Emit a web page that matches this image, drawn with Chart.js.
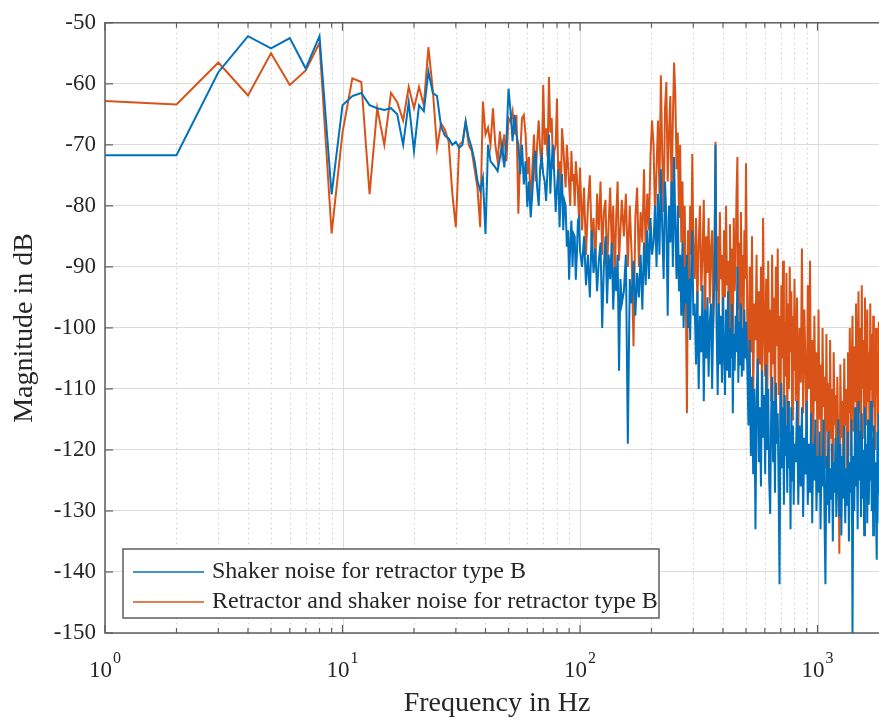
<!DOCTYPE html>
<html>
<head>
<meta charset="utf-8">
<script src="https://cdn.jsdelivr.net/npm/chart.js@4.4.1/dist/chart.umd.min.js"></script>
<style>
  html, body { margin: 0; padding: 0; overflow: hidden; background: #fff; }
  #wrap { width: 889px; height: 720px; }
</style>
</head>
<body>
<div id="wrap"><canvas id="spectrum" width="889" height="720"></canvas></div>
<script>
// frequency bins (Hz), shared by both curves
var freqHz = [
  1, 2, 3, 4, 5, 6, 7, 8, 9, 10, 11, 12, 13, 14, 15, 16, 17, 18, 19, 20,
  21, 22, 23, 24, 25, 26, 27, 28, 29, 30, 31, 32, 33, 34, 35, 36, 37, 38, 39, 40,
  41, 42, 43, 44, 45, 46, 47, 48, 49, 50, 51, 52, 53, 54, 55, 56, 57, 58, 59, 60,
  61, 62, 63, 64, 65, 66, 67, 68, 69, 70, 71, 72, 73, 74, 75, 76, 77, 78, 79, 80,
  81, 82, 83, 84, 85, 86, 87, 88, 89, 90, 91, 92, 93, 94, 95, 96, 97, 98, 99, 100,
  102, 104, 106, 108, 110, 112, 114, 116, 118, 120, 122, 124, 126, 128, 130, 132, 134, 136, 138, 140,
  142, 144, 146, 148, 150,
  153, 156, 159, 162, 165, 168, 171, 174, 177, 180, 183, 186, 189, 192, 195, 198, 201,
  204, 207, 210, 213, 216, 219, 222, 225, 228, 231, 234, 237, 240, 243, 246, 249, 252, 255, 258, 261,
  264, 267, 270, 273, 276, 279, 282, 285, 288, 291, 294, 297, 300,
  304, 308, 312, 316, 320, 324, 328, 332, 336, 340, 344, 348, 352, 356, 360, 364, 368, 372, 376, 380,
  384, 388, 392, 396, 400, 404, 408, 412, 416, 420, 424, 428, 432, 436, 440, 444, 448, 452, 456, 460,
  464, 468, 472, 476, 480, 484, 488, 492, 496, 500,
  506, 512, 518, 524, 530, 536, 542, 548, 554, 560, 566, 572, 578, 584, 590, 596, 602, 608, 614, 620,
  626, 632, 638, 644, 650, 656, 662, 668, 674, 680, 686, 692, 698, 704, 710, 716, 722, 728, 734, 740,
  746, 752, 758, 764, 770, 776, 782, 788, 794, 800,
  810, 820, 830, 840, 850, 860, 870, 880, 890, 900, 910, 920, 930, 940, 950, 960, 970, 980, 990, 1000,
  1010, 1020, 1030, 1040, 1050, 1060, 1070, 1080, 1090, 1100, 1110, 1120, 1130, 1140, 1150, 1160, 1170, 1180, 1190, 1200,
  1212, 1224, 1236, 1248, 1260, 1272, 1284, 1296, 1308, 1320, 1332, 1344, 1356, 1368, 1380, 1392, 1404, 1416,
  1428, 1440, 1452, 1464, 1476, 1488, 1500, 1512, 1524, 1536, 1548, 1560, 1572, 1584, 1596, 1608, 1620, 1632,
  1644, 1656, 1668, 1680, 1692, 1704, 1716, 1728, 1740, 1752, 1764, 1776, 1788, 1800, 1812, 1824, 1836, 1848
];

// Shaker noise (blue), dB
var shakerDb = [
  -71.7, -71.7, -58.1, -52.2, -54.2, -52.5, -57.5, -52.2, -78.1, -63.5,
  -62.0, -61.5, -63.5, -64.0, -64.3, -64.0, -65.0, -70.0, -63.0, -71.0,
  -63.5, -64.5, -58.0, -61.5, -62.0, -67.0, -68.5, -69.0, -70.0, -69.5,
  -70.5, -70.0, -66.2, -68.9, -70.5, -72.7, -75.9, -77.5, -75.4, -84.6,
  -70.0, -72.7, -73.2, -73.7, -74.3, -72.1, -70.0, -73.7, -69.4, -60.8,
  -64.5, -69.4, -65.1, -68.3, -70.0, -74.8, -70.0, -76.5, -72.7, -80.2,
  -76, -81.9, -78, -72.7, -71, -77, -80, -73.7, -72, -74.8,
  -76, -79.2, -74, -68.3, -78, -72.7, -70, -75.4, -81, -77,
  -74, -83.5, -78, -74.8, -84, -79.2, -80, -86.7, -84, -92.1,
  -86, -82.4, -90, -84.6, -85, -92.1, -88, -82.4, -82, -87.3,
  -90, -85, -93, -88, -95, -84, -91, -87, -94, -89, -86, -100, -90, -85, -96, -88, -92, -86, -97, -90,
  -94, -88, -107, -92, -96,
  -94, -88, -119, -92, -96, -89, -98, -91, -95, -88, -97, -86, -93, -84, -92, -82, -88,
  -86, -80, -90, -78, -88, -74, -84, -92, -76, -82, -98, -80, -86, -76, -90, -72, -84, -92, -80, -94,
  -88, -98, -86, -100, -90, -96, -88, -100, -92, -102, -90, -84, -98,
  -96, -106, -94, -110, -98, -104, -93, -112, -97, -105, -95, -108, -99, -96, -110, -98, -92, -70, -100, -111,
  -96, -106, -98, -109, -95, -104, -111, -97, -107, -94, -108, -100, -105, -96, -114, -101, -107, -98, -104, -90,
  -109, -99, -106, -96, -108, -100, -107, -97, -105, -99,
  -106, -116, -102, -121, -108, -124, -110, -133, -112, -105, -122, -113, -126, -107, -118, -111, -124, -106, -120, -110,
  -125, -130.5, -114, -108, -122, -112, -127, -109, -119, -114, -126, -142, -115, -109, -123, -113, -129, -111, -121, -116,
  -127, -112, -123, -117, -133, -113, -125, -116, -129, -119,
  -122, -112, -129, -116, -126, -113, -131, -118, -124, -112, -129, -119, -127, -114, -132, -119, -125, -115, -130, -121,
  -127, -117, -133, -121, -126, -115, -131, -142, -121, -129, -117, -132, -123, -128, -119, -135, -122, -127, -118, -131,
  -125, -115, -131, -119, -134, -121, -128, -116, -132, -123, -129, -117, -135, -122, -127, -115, -150, -121,
  -130, -113, -126, -119, -133, -112, -125, -117, -131, -114, -128, -120, -134, -113, -127, -119, -132, -115,
  -129, -121, -125, -112, -130, -118, -134, -116, -128, -122, -131, -138, -117, -127, -114, -132, -120, -126
];

// Retractor and shaker noise (orange), dB
var combinedDb = [
  -62.8, -63.4, -56.5, -61.9, -55.0, -60.2, -57.8, -53.3, -84.5, -68.0,
  -59.1, -59.7, -78.1, -64.0, -70.0, -61.5, -63.0, -66.0, -60.5, -64.0,
  -60.5, -63.5, -54.0, -61.0, -70.5, -66.5, -67.5, -69.5, -78.0, -83.5,
  -70.0, -69.5, -66.2, -70.0, -71.0, -74.0, -77.0, -83.5, -62.9, -68.3,
  -67.2, -70.0, -64.0, -70.0, -72.7, -67.8, -71.6, -68.3, -72.7, -65.6,
  -66.2, -64.5, -68.3, -65.1, -81.3, -71.6, -65.6, -65.1, -68.3, -74.8,
  -72, -80.2, -74, -68.3, -76, -70, -66, -71, -74, -60.2,
  -70, -67.3, -72, -58.9, -68, -65.6, -74, -71, -70, -62.4,
  -76, -72.7, -79, -67.3, -70, -73.7, -77, -70, -73, -76.5,
  -80, -71, -76, -74.8, -80, -72.7, -75, -78.1, -82, -73.7,
  -84, -77, -88, -80, -75, -86, -82, -90, -78, -84, -76, -88, -81, -79, -91, -83, -77, -87, -80, -93,
  -82, -76, -89, -84, -79,
  -85, -78, -90, -80, -88, -103, -82, -77, -90, -81, -86, -74, -88, -78, -84, -72, -66,
  -70, -82, -74, -66, -78, -58.6, -72, -81, -64, -59.7, -76, -68, -62, -80, -66, -56.5, -62, -74, -68, -82,
  -70, -86, -76, -90, -80, -95, -114, -84, -92, -80, -88, -71.5, -86,
  -92, -82, -97, -86, -80, -94, -88, -79, -99, -85, -91, -82, -96, -87, -84, -100, -90, -69.5, -94, -85,
  -98, -81, -92, -88, -101, -84, -95, -80, -93, -89, -102, -83, -96, -87, -104, -82, -94, -90, -78, -72,
  -97, -86, -100, -81, -95, -88, -103, -84, -92, -73,
  -98, -108, -90, -104, -85, -112, -96, -102, -88, -110, -94, -106, -90, -114, -82, -100, -108, -92, -115, -89,
  -104, -97, -112, -88, -106, -95, -116, -90, -103, -87, -111, -98, -118, -93, -105, -89, -113, -99, -108, -91,
  -117, -96, -110, -90, -104, -94, -115, -98, -107, -92,
  -112, -95, -118, -100, -109, -87, -114, -97, -106, -119, -93, -110, -89, -116, -102, -120, -98, -112, -104, -121,
  -97, -115, -106, -122, -100, -113, -108, -123, -101, -117, -109, -124, -102, -118, -110, -125, -104, -116, -111, -122,
  -108, -120, -137, -106, -118, -112, -124, -105, -116, -110, -123, -104, -114, -100, -121, -108, -98, -117,
  -103, -112, -96, -119, -105, -94, -114, -100, -120, -93, -110, -102, -118, -95, -108, -116, -97, -112,
  -104, -119, -96, -110, -101, -117, -98, -113, -106, -120, -100, -111, -104, -118, -99, -114, -102, -116
];

var seriesLabels = ['Shaker noise for retractor type B', 'Retractor and shaker noise for retractor type B'];
var seriesColors = ['#0072BD', '#D95319'];

// x axis tick positions and labels
var decadeHz = [1, 10, 100, 1000];
var decadeExp = ['0', '1', '2', '3'];
var minorHz = [2, 3, 4, 5, 6, 7, 8, 9, 20, 30, 40, 50, 60, 70, 80, 90,
  200, 300, 400, 500, 600, 700, 800, 900, 2000];

var serif = '"Liberation Serif", "Times New Roman", serif';
var textColor = '#262626';

function toPoints(values) {
  return values.map(function (v, i) { return { x: freqHz[i], y: v }; });
}

function strokeLine(ctx, x1, y1, x2, y2) {
  ctx.beginPath();
  ctx.moveTo(x1, y1);
  ctx.lineTo(x2, y2);
  ctx.stroke();
}

// matlab style box, grid, inward ticks, superscript labels and legend
var matlabAxes = {
  id: 'matlabAxes',
  beforeDatasetsDraw: function (chart) {
    var ctx = chart.ctx, a = chart.chartArea, x = chart.scales.x;
    ctx.save();
    ctx.strokeStyle = '#cfcfcf';
    ctx.lineWidth = 1;
    ctx.setLineDash([1.5, 3.5]);
    minorHz.forEach(function (v) {
      var px = Math.round(x.getPixelForValue(v)) + 0.5;
      strokeLine(ctx, px, a.top, px, a.bottom);
    });
    ctx.setLineDash([]);
    ctx.strokeStyle = '#dcdcdc';
    decadeHz.forEach(function (v) {
      var px = Math.round(x.getPixelForValue(v)) + 0.5;
      strokeLine(ctx, px, a.top, px, a.bottom);
    });
    ctx.restore();
  },
  afterDatasetsDraw: function (chart) {
    var ctx = chart.ctx, a = chart.chartArea, x = chart.scales.x, y = chart.scales.y;
    ctx.save();
    ctx.strokeStyle = '#5e5e5e';
    ctx.lineWidth = 1.5;
    ctx.strokeRect(a.left, a.top, a.right - a.left, a.bottom - a.top);
    ctx.lineWidth = 1.2;
    minorHz.concat(decadeHz).forEach(function (v) {
      var px = x.getPixelForValue(v);
      var len = decadeHz.indexOf(v) >= 0 ? 8 : 5;
      strokeLine(ctx, px, a.bottom, px, a.bottom - len);
      strokeLine(ctx, px, a.top, px, a.top + len);
    });
    y.ticks.forEach(function (t) {
      var py = y.getPixelForValue(t.value);
      strokeLine(ctx, a.left, py, a.left + 8, py);
    });
    ctx.restore();
  },
  afterDraw: function (chart) {
    var ctx = chart.ctx, x = chart.scales.x;
    ctx.save();
    ctx.fillStyle = textColor;
    ctx.textAlign = 'left';
    ctx.textBaseline = 'alphabetic';
    decadeHz.forEach(function (v, i) {
      var px = x.getPixelForValue(v);
      ctx.font = '23px ' + serif;
      var wb = ctx.measureText('10').width;
      ctx.font = '16px ' + serif;
      var we = ctx.measureText(decadeExp[i]).width;
      var x0 = px - (wb + we + 1) / 2;
      ctx.font = '23px ' + serif;
      ctx.fillText('10', x0, 677);
      ctx.font = '16px ' + serif;
      ctx.fillText(decadeExp[i], x0 + wb + 1, 663);
    });

    // legend
    var lx = 123, ly = 549, lw = 536, lh = 69;
    ctx.fillStyle = '#ffffff';
    ctx.fillRect(lx, ly, lw, lh);
    ctx.strokeStyle = '#5e5e5e';
    ctx.lineWidth = 1.5;
    ctx.strokeRect(lx, ly, lw, lh);
    ctx.textBaseline = 'middle';
    ctx.font = '24px ' + serif;
    chart.data.datasets.forEach(function (ds, i) {
      var ry = 572 + i * 30;
      ctx.strokeStyle = ds.borderColor;
      ctx.lineWidth = 1.5;
      strokeLine(ctx, 133, ry, 204, ry);
      ctx.fillStyle = textColor;
      ctx.fillText(ds.label, 212, ry);
    });
    ctx.restore();
  }
};

var spectrumChart = new Chart(document.getElementById('spectrum').getContext('2d'), {
  type: 'line',
  data: {
    datasets: [
      {
        label: seriesLabels[0],
        data: toPoints(shakerDb),
        borderColor: seriesColors[0],
        borderWidth: 2,
        pointRadius: 0,
        tension: 0,
        fill: false
      },
      {
        label: seriesLabels[1],
        data: toPoints(combinedDb),
        borderColor: seriesColors[1],
        borderWidth: 2,
        pointRadius: 0,
        tension: 0,
        fill: false
      }
    ]
  },
  options: {
    responsive: false,
    animation: false,
    layout: { padding: { top: 17, right: 0, bottom: 0, left: 0 } },
    plugins: {
      legend: { display: false },
      tooltip: { enabled: false }
    },
    scales: {
      x: {
        type: 'logarithmic',
        min: 1,
        max: 2000,
        grid: { display: false },
        border: { display: false },
        ticks: { display: false },
        title: {
          display: true,
          text: 'Frequency in Hz',
          color: textColor,
          font: { family: serif, size: 28 },
          padding: { top: 0, bottom: 0 }
        },
        afterFit: function (s) { s.height = 87; }
      },
      y: {
        min: -150,
        max: -50,
        ticks: {
          stepSize: 10,
          padding: 9,
          color: textColor,
          font: { family: serif, size: 23 }
        },
        grid: { color: '#dcdcdc', lineWidth: 1, drawTicks: false },
        border: { display: false },
        title: {
          display: true,
          text: 'Magnitude in dB',
          color: textColor,
          font: { family: serif, size: 28 },
          padding: { top: 8, bottom: 0 }
        },
        afterFit: function (s) { s.width = 105; }
      }
    }
  },
  plugins: [matlabAxes]
});
</script>
</body>
</html>
